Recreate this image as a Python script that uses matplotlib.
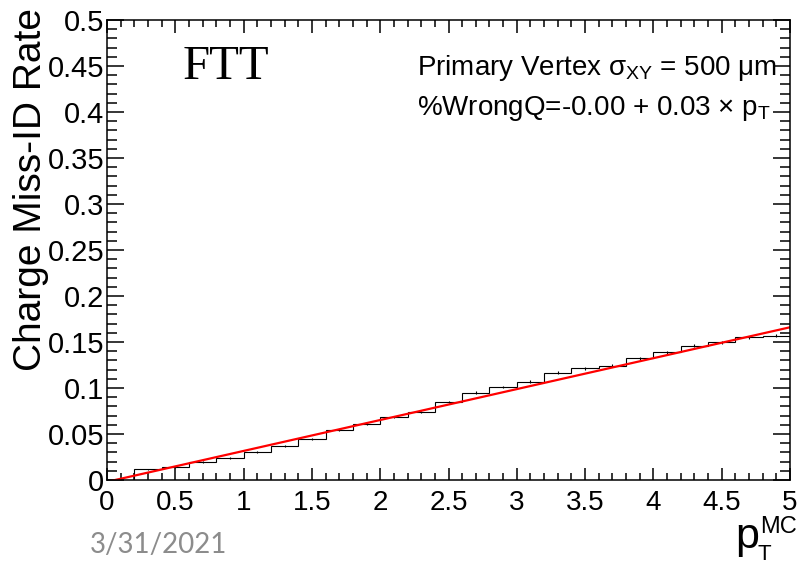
import numpy as np
import matplotlib
matplotlib.use("Agg")
import matplotlib.pyplot as plt
from matplotlib.ticker import MultipleLocator, FuncFormatter

plt.rcParams['font.family'] = ['Liberation Sans', 'DejaVu Sans']
plt.rcParams['mathtext.fontset'] = 'custom'
plt.rcParams['mathtext.rm'] = 'Liberation Sans'
plt.rcParams['mathtext.it'] = 'Liberation Sans'
plt.rcParams['mathtext.bf'] = 'Liberation Sans:bold'

# ---- data ----
bin_edges = [0.0, 0.2, 0.4, 0.6, 0.8, 1.0, 1.2, 1.4, 1.6, 1.8, 2.0, 2.2, 2.4,
             2.6, 2.8, 3.0, 3.2, 3.4, 3.6, 3.8, 4.0, 4.2, 4.4, 4.6, 4.8, 5.0]
rate = [0.0, 0.0116, 0.0138, 0.0199, 0.0236, 0.0308, 0.0373, 0.0446, 0.0547,
        0.0605, 0.0688, 0.0743, 0.0851, 0.0949, 0.1014, 0.1068, 0.1168, 0.1214,
        0.1243, 0.1323, 0.1388, 0.1457, 0.1497, 0.1551, 0.1569]
rate_err = [0.0, 0.0008, 0.0008, 0.0009, 0.0009, 0.0010, 0.0010, 0.0011, 0.0011,
            0.0012, 0.0012, 0.0012, 0.0013, 0.0013, 0.0013, 0.0014, 0.0014, 0.0014,
            0.0015, 0.0015, 0.0015, 0.0016, 0.0016, 0.0016, 0.0017]
fit_intercept = -0.002
fit_slope = 0.0336
fit_range = [0.0, 5.0]
x_ticks = [0, 0.5, 1, 1.5, 2, 2.5, 3, 3.5, 4, 4.5, 5]
y_ticks = [0, 0.05, 0.1, 0.15, 0.2, 0.25, 0.3, 0.35, 0.4, 0.45, 0.5]

W, H = 798, 566
fig = plt.figure(figsize=(W / 100, H / 100), dpi=100)
fig.patch.set_facecolor('white')
L, R, T, B = 107, 790, 20, 480
ax = fig.add_axes([L / W, (H - B) / H, (R - L) / W, (B - T) / H])

edges = np.array(bin_edges)
vals = np.array(rate)
errs = np.array(rate_err)
centers = 0.5 * (edges[:-1] + edges[1:])

ax.stairs(vals, edges, color='black', linewidth=0.8, baseline=0)
mask = vals > 0
ax.errorbar(centers[mask], vals[mask], yerr=errs[mask], fmt='none',
            ecolor='black', elinewidth=0.8, capsize=0)

xf = np.linspace(fit_range[0], fit_range[1], 200)
ax.plot(xf, fit_intercept + fit_slope * xf, color='#ff0000', linewidth=1.6)

ax.set_xlim(0, 5)
ax.set_ylim(0, 0.5)
ax.set_xticks(x_ticks)
ax.set_yticks(y_ticks)
ax.xaxis.set_minor_locator(MultipleLocator(0.1))
ax.yaxis.set_minor_locator(MultipleLocator(0.01))
fmt = FuncFormatter(lambda v, p: '%g' % round(v, 3))
ax.xaxis.set_major_formatter(fmt)
ax.yaxis.set_major_formatter(fmt)
for s in ax.spines.values():
    s.set_linewidth(1.1)
ax.tick_params(axis='both', which='both', direction='in', top=True, right=True,
               width=1.1)
ax.tick_params(axis='x', which='major', length=9, labelsize=20, pad=7)
ax.tick_params(axis='x', which='minor', length=5)
ax.tick_params(axis='y', which='major', length=12, labelsize=21, pad=2)
ax.tick_params(axis='y', which='minor', length=7)

# axis titles
fig.text(31 / W, 1 - 8 / H, 'Charge Miss-ID Rate', rotation=90, ha='center',
         va='top', fontsize=28)
fig.text(759 / W, 1 - 548 / H, 'p', ha='right', va='baseline', fontsize=31)
fig.text(760 / W, 1 - 533 / H, 'MC', ha='left', va='baseline', fontsize=17)
fig.text(758 / W, 1 - 560 / H, 'T', ha='left', va='baseline', fontsize=16)

# annotations
fig.text(183 / W, 1 - 79 / H, 'FTT', family='Liberation Serif', fontsize=35,
         ha='left', va='baseline')
fig.text(417 / W, 1 - 75 / H, r'Primary Vertex σ$_{\mathrm{XY}}$ = 500 μm',
         fontsize=20, ha='left', va='baseline')
fig.text(417 / W, 1 - 115 / H, r'%WrongQ=-0.00 + 0.03 × p$_{\mathrm{T}}$',
         fontsize=20, ha='left', va='baseline')

fig.text(90 / W, 1 - 553 / H, '3/31/2021', family='Lato', fontsize=20,
         color='#8c8c8c', ha='left', va='baseline')

fig.savefig('out.png', dpi=100)
